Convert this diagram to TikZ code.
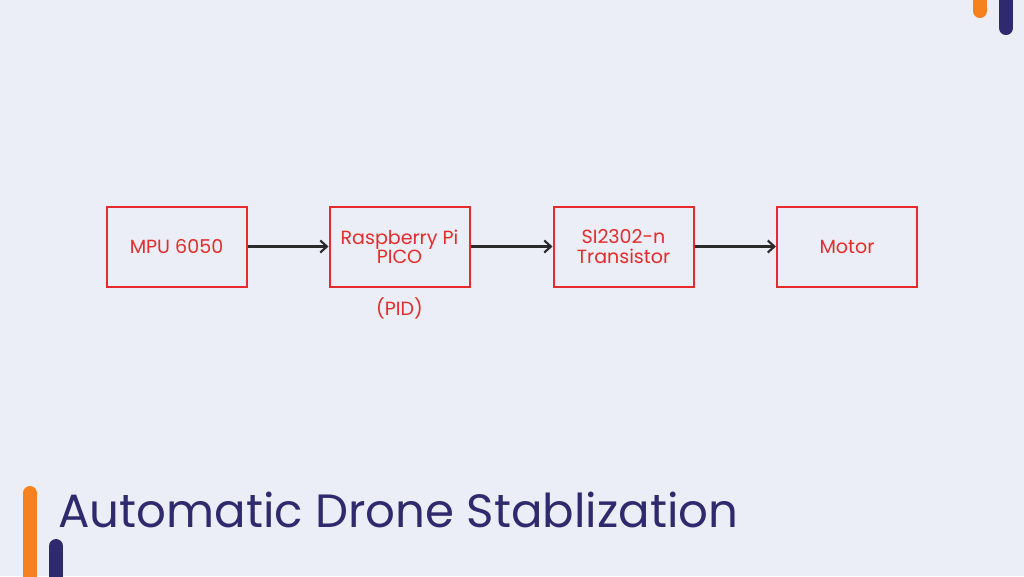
\documentclass[tikz,border=0pt]{standalone}
\usepackage{fontspec}
\setmainfont{Poppins}
\usetikzlibrary{arrows.meta}
\definecolor{bgcol}{HTML}{ECEEF7}
\definecolor{boxred}{HTML}{E52B2B}
\definecolor{navy}{HTML}{2F2A6E}
\definecolor{accent}{HTML}{F7801F}
\definecolor{arrowgray}{HTML}{2A2A2A}

\begin{document}
\begin{tikzpicture}[x=0.75pt, y=-0.75pt]
    % Styles
    \tikzstyle{block} = [rectangle, draw=boxred, line width=1.5pt, minimum width=105pt, minimum height=60pt, align=center, text=boxred, font=\fontsize{14.3}{14.5}\selectfont, inner sep=0pt]
    \tikzstyle{arrow} = [-{Straight Barb[length=5pt, width=9pt]}, line width=1.6pt, draw=arrowgray]
    \tikzstyle{bar} = [line width=10.5pt, line cap=round]

    % Background and frame
    \fill[bgcol] (0,0) rectangle (1024,576);
    \useasboundingbox (0,0) rectangle (1024,576);
    \clip (0,0) rectangle (1024,576);

    % Corner bars
    \draw[bar, accent] (30,493) -- (30,600);
    \draw[bar, navy] (56,546) -- (56,600);
    \draw[bar, accent] (980,-20) -- (980,11);
    \draw[bar, navy] (1006,-20) -- (1006,28);

    % Nodes
    \node[block] (mpu) at (176.5,246.5) {MPU 6050};
    \node[block] (pico) at (399.5,246.5) {Raspberry Pi\\PICO};
    \node[block] (trans) at (623.5,246.5) {SI2302-n\\Transistor};
    \node[block] (motor) at (847,246.5) {Motor};
    \node[text=boxred, font=\fontsize{14.3}{14.5}\selectfont, anchor=north] (pid) at (pico.south) [yshift=-4pt] {(PID)};

    % Arrows
    \draw[arrow] (mpu) -- (pico);
    \draw[arrow] (pico) -- (trans);
    \draw[arrow] (trans) -- (motor);

    % Title
    \node[anchor=base west, text=navy, font=\fontsize{35}{38}\selectfont, inner sep=0pt] (title) at (58,527) {Automatic Drone Stablization};
\end{tikzpicture}
\end{document}
